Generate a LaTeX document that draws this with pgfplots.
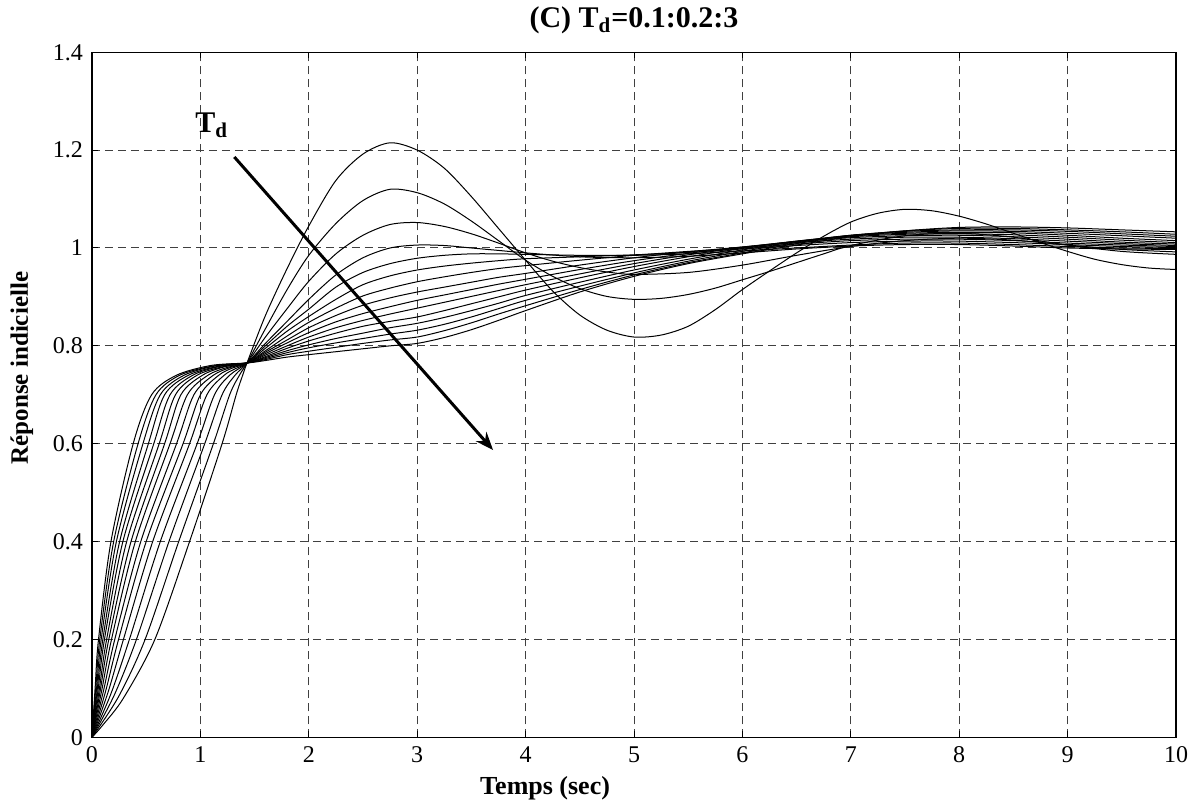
\documentclass[border=0pt]{standalone}
\usepackage{fontspec}
\setmainfont{Liberation Serif}
\usepackage{pgfplots}
\pgfplotsset{compat=1.18}
\usetikzlibrary{arrows.meta}
\begin{document}
\begin{tikzpicture}
\begin{axis}[
 scale only axis, width=542pt, height=342.5pt,
 xmin=0, xmax=10, ymin=0, ymax=1.4,
 xtick={0,1,2,3,4,5,6,7,8,9,10},
 ytick={0,0.2,0.4,0.6,0.8,1,1.2,1.4},
 grid=major,
 major grid style={black!75, dash pattern=on 4pt off 2.5pt, line width=0.5pt},
 tick align=inside, major tick length=3pt,
 axis line style={line width=0.7pt},
 every tick/.style={black, line width=0.5pt},
 /pgf/number format/assume math mode=true,
 ticklabel style={font=\fontsize{12}{12}\selectfont},
 xticklabel style={yshift=-1pt},
 yticklabel style={xshift=-1pt},
 title={\textbf{(C) T\textsubscript{d}=0.1:0.2:3}},
 title style={font=\fontsize{15}{15}\selectfont, at={(axis description cs:0.5,1)}, anchor=center, yshift=10pt},
 xlabel={\textbf{Temps (sec)}},
 xlabel style={font=\fontsize{13}{13}\selectfont, at={(axis description cs:0.418,-0.0745)}, anchor=center},
 ylabel={\textbf{Réponse indicielle}},
 ylabel style={font=\fontsize{12.5}{12.5}\selectfont, at={(axis description cs:-0.0646,0.539)}, anchor=center},
 crv/.style={black, solid, line width=0.5pt, smooth, tension=0.5, mark=none},
 clip=true,
]
% k=0 (Td=0.1)
\addplot[crv] coordinates {(0,0) (0.1,0.025) (0.29,0.08) (0.58,0.2) (0.9,0.4) (1.2,0.6) (1.33,0.7) (1.39,0.74) (1.43,0.765)
 (1.6,0.862) (1.8,0.958) (2.0,1.045) (2.25,1.138) (2.5,1.192) (2.75,1.215) (3.0,1.2) (3.25,1.163) (3.5,1.105) (3.75,1.04) (4.0,0.975) (4.25,0.912) (4.5,0.863) (4.75,0.832) (5.0,0.818) (5.25,0.822) (5.5,0.84) (5.75,0.874) (6.0,0.915) (6.25,0.953) (6.5,0.99) (6.75,1.024) (7.0,1.053) (7.25,1.071) (7.5,1.079) (7.75,1.076) (8.0,1.065) (8.25,1.049) (8.5,1.03) (8.75,1.011) (9.0,0.993) (9.25,0.977) (9.5,0.966) (9.75,0.959) (10,0.956)};
% k=1
\addplot[crv] coordinates {(0,0) (0.245,0.083) (0.49,0.2) (0.8,0.4) (1.12,0.6) (1.27,0.7) (1.36,0.74) (1.43,0.765)
 (1.6,0.835) (1.8,0.915) (2.0,0.985) (2.25,1.05) (2.5,1.097) (2.75,1.12) (3.0,1.113) (3.25,1.09) (3.5,1.055) (3.75,1.015) (4.0,0.975) (4.25,0.942) (4.5,0.917) (4.75,0.901) (5.0,0.895) (5.25,0.897) (5.5,0.905) (5.75,0.918) (6.0,0.935) (6.25,0.952) (6.5,0.97) (6.75,0.988) (7.0,1.005) (7.5,1.025) (8.0,1.03) (8.5,1.022) (9.0,1.006) (9.5,0.993) (10,0.987)};
% k=2
\addplot[crv] coordinates {(0,0) (0.205,0.086) (0.41,0.2) (0.71,0.4) (1.04,0.6) (1.2,0.7) (1.32,0.74) (1.43,0.765)
 (1.6,0.818) (1.8,0.876) (2.0,0.932) (2.25,0.988) (2.5,1.026) (2.75,1.048) (3.0,1.052) (3.25,1.044) (3.5,1.029) (3.75,1.01) (4.0,0.99) (4.25,0.973) (4.5,0.96) (4.75,0.951) (5.0,0.946) (5.5,0.95) (6.0,0.965) (6.5,0.985) (7.0,1.003) (7.5,1.015) (8.0,1.02) (8.5,1.016) (9.0,1.006) (9.5,0.997) (10,0.992)};
% k=3
\addplot[crv] coordinates {(0,0) (0.173,0.088) (0.345,0.2) (0.63,0.4) (0.97,0.6) (1.13,0.7) (1.27,0.74) (1.43,0.765)
 (1.6,0.805) (1.8,0.85) (2.0,0.895) (2.25,0.945) (2.5,0.98) (2.75,1.0) (3.0,1.006) (3.25,1.005) (3.5,1.0) (3.75,0.995) (4.0,0.99) (4.5,0.982) (5.0,0.98) (5.5,0.983) (6.0,0.99) (6.5,0.998) (7.0,1.004) (7.5,1.007) (8.0,1.007) (8.5,1.004) (9.0,1.0) (9.5,0.998) (10,0.997)};
% k=4
\addplot[crv] coordinates {(0,0) (0.145,0.09) (0.29,0.2) (0.56,0.4) (0.9,0.6) (1.06,0.7) (1.22,0.74) (1.33,0.754) (1.43,0.765)
 (1.6,0.8) (1.8,0.84) (2.0,0.875) (2.25,0.92) (2.5,0.95) (2.75,0.968) (3.0,0.979) (3.25,0.985) (3.5,0.988) (3.75,0.988) (4.0,0.987) (4.5,0.985) (5.0,0.985) (5.5,0.988) (6.0,0.994) (6.5,1.0) (7.0,1.006) (7.5,1.01) (8.0,1.01) (8.5,1.007) (9.0,1.003) (9.5,1.0) (10,0.999)};
% k=5
\addplot[crv] coordinates {(0,0) (0.123,0.092) (0.245,0.2) (0.5,0.4) (0.84,0.6) (1.0,0.7) (1.17,0.74) (1.3,0.755) (1.43,0.765)
 (1.6,0.795) (1.8,0.83) (2.0,0.86) (2.25,0.895) (2.5,0.925) (2.75,0.943) (3.0,0.955) (3.25,0.963) (3.5,0.969) (3.75,0.974) (4.0,0.978) (4.5,0.982) (5.0,0.986) (5.5,0.991) (6.0,0.998) (6.5,1.005) (7.0,1.011) (7.5,1.014) (8.0,1.014) (8.5,1.011) (9.0,1.007) (9.5,1.003) (10,1.001)};
% k=6
\addplot[crv] coordinates {(0,0) (0.105,0.094) (0.21,0.2) (0.45,0.4) (0.78,0.6) (0.94,0.7) (1.12,0.74) (1.28,0.756) (1.43,0.765)
 (1.6,0.79) (1.8,0.82) (2.0,0.848) (2.25,0.877) (2.5,0.902) (2.75,0.918) (3.0,0.931) (3.25,0.941) (3.5,0.95) (3.75,0.958) (4.0,0.964) (4.5,0.975) (5.0,0.985) (5.5,0.993) (6.0,1.0) (6.5,1.008) (7.0,1.015) (7.5,1.018) (8.0,1.018) (8.5,1.015) (9.0,1.01) (9.5,1.006) (10,1.003)};
% k=7
\addplot[crv] coordinates {(0,0) (0.09,0.096) (0.18,0.2) (0.4,0.4) (0.72,0.6) (0.88,0.7) (1.07,0.74) (1.25,0.756) (1.43,0.765)
 (1.6,0.787) (1.8,0.812) (2.0,0.837) (2.25,0.862) (2.5,0.883) (2.75,0.898) (3.0,0.91) (3.25,0.92) (3.5,0.93) (3.75,0.94) (4.0,0.948) (4.5,0.965) (5.0,0.98) (5.5,0.992) (6.0,1.002) (6.5,1.011) (7.0,1.018) (7.5,1.022) (8.0,1.022) (8.5,1.019) (9.0,1.014) (9.5,1.009) (10,1.005)};
% k=8
\addplot[crv] coordinates {(0,0) (0.078,0.098) (0.155,0.2) (0.36,0.4) (0.67,0.6) (0.82,0.7) (1.02,0.74) (1.22,0.757) (1.43,0.765)
 (1.6,0.784) (1.8,0.806) (2.0,0.827) (2.25,0.849) (2.5,0.866) (2.75,0.88) (3.0,0.893) (3.25,0.904) (3.5,0.915) (3.75,0.926) (4.0,0.936) (4.5,0.956) (5.0,0.974) (5.5,0.989) (6.0,1.002) (6.5,1.013) (7.0,1.021) (7.5,1.025) (8.0,1.026) (8.5,1.023) (9.0,1.018) (9.5,1.012) (10,1.008)};
% k=9
\addplot[crv] coordinates {(0,0) (0.068,0.099) (0.135,0.2) (0.32,0.4) (0.62,0.6) (0.77,0.7) (0.97,0.74) (1.2,0.757) (1.43,0.765)
 (1.6,0.781) (1.8,0.8) (2.0,0.818) (2.25,0.837) (2.5,0.852) (2.75,0.865) (3.0,0.877) (3.25,0.889) (3.5,0.901) (3.75,0.913) (4.0,0.925) (4.5,0.947) (5.0,0.968) (5.5,0.986) (6.0,1.001) (6.5,1.014) (7.0,1.023) (7.5,1.028) (8.0,1.029) (8.5,1.027) (9.0,1.022) (9.5,1.016) (10,1.011)};
% k=10
\addplot[crv] coordinates {(0,0) (0.058,0.1) (0.115,0.2) (0.285,0.4) (0.57,0.6) (0.72,0.7) (0.93,0.74) (1.18,0.758) (1.43,0.765)
 (1.6,0.778) (1.8,0.795) (2.0,0.81) (2.25,0.826) (2.5,0.84) (2.75,0.85) (3.0,0.859) (3.25,0.872) (3.5,0.886) (3.75,0.9) (4.0,0.914) (4.5,0.939) (5.0,0.962) (5.5,0.982) (6.0,0.999) (6.5,1.014) (7.0,1.025) (7.5,1.03) (8.0,1.032) (8.5,1.031) (9.0,1.026) (9.5,1.02) (10,1.015)};
% k=11
\addplot[crv] coordinates {(0,0) (0.05,0.101) (0.1,0.2) (0.255,0.4) (0.52,0.6) (0.67,0.7) (0.89,0.74) (1.16,0.758) (1.43,0.765)
 (1.6,0.776) (1.8,0.79) (2.0,0.802) (2.25,0.815) (2.5,0.826) (2.75,0.837) (3.0,0.846) (3.25,0.858) (3.5,0.872) (3.75,0.887) (4.0,0.903) (4.5,0.93) (5.0,0.955) (5.5,0.977) (6.0,0.996) (6.5,1.013) (7.0,1.026) (7.5,1.032) (8.0,1.035) (8.5,1.034) (9.0,1.03) (9.5,1.025) (10,1.02)};
% k=12
\addplot[crv] coordinates {(0,0) (0.043,0.102) (0.085,0.2) (0.225,0.4) (0.47,0.6) (0.63,0.7) (0.85,0.74) (1.14,0.759) (1.43,0.765)
 (1.6,0.774) (1.8,0.786) (2.0,0.796) (2.25,0.806) (2.5,0.815) (2.75,0.824) (3.0,0.832) (3.25,0.844) (3.5,0.859) (3.75,0.876) (4.0,0.893) (4.5,0.922) (5.0,0.949) (5.5,0.973) (6.0,0.993) (6.5,1.011) (7.0,1.026) (7.5,1.034) (8.0,1.037) (8.5,1.037) (9.0,1.034) (9.5,1.029) (10,1.024)};
% k=13
\addplot[crv] coordinates {(0,0) (0.036,0.104) (0.072,0.2) (0.2,0.4) (0.425,0.6) (0.59,0.7) (0.81,0.74) (1.12,0.759) (1.43,0.765)
 (1.6,0.772) (1.8,0.782) (2.0,0.789) (2.25,0.797) (2.5,0.805) (2.75,0.812) (3.0,0.818) (3.25,0.831) (3.5,0.847) (3.75,0.865) (4.0,0.882) (4.5,0.915) (5.0,0.945) (5.5,0.97) (6.0,0.99) (6.5,1.009) (7.0,1.025) (7.5,1.035) (8.0,1.04) (8.5,1.04) (9.0,1.037) (9.5,1.033) (10,1.028)};
% k=14 (Td=2.9)
\addplot[crv] coordinates {(0,0) (0.03,0.105) (0.06,0.2) (0.175,0.4) (0.38,0.6) (0.55,0.7) (0.78,0.74) (1.1,0.76) (1.43,0.765)
 (1.6,0.77) (1.8,0.777) (2.0,0.782) (2.25,0.788) (2.5,0.794) (2.75,0.8) (3.0,0.805) (3.25,0.817) (3.5,0.833) (3.75,0.852) (4.0,0.872) (4.5,0.91) (5.0,0.942) (5.5,0.968) (6.0,0.988) (6.5,1.006) (7.0,1.023) (7.5,1.035) (8.0,1.042) (8.5,1.043) (9.0,1.041) (9.5,1.037) (10,1.033)};
% annotation
\draw[line width=1.5pt, -{Stealth[length=9pt,width=7pt]}] (axis cs:1.313,1.186) -- (axis cs:3.70,0.587);
\node[font=\fontsize{15}{15}\selectfont\bfseries, anchor=base west, inner sep=0pt] at (axis cs:0.95,1.235) {T\textsubscript{d}};
\end{axis}
\path (current axis.south west) ++(-46pt,-31pt) rectangle ([shift={(12pt,26pt)}]current axis.north east);
\end{tikzpicture}
\end{document}
